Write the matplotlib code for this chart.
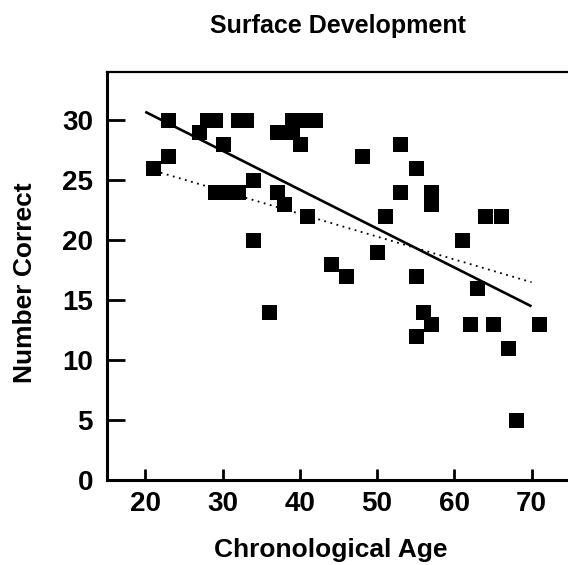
import matplotlib
matplotlib.use("Agg")
import matplotlib.pyplot as plt
import numpy as np

# Data
age = [21, 23, 23, 27, 28, 29, 30, 29, 30, 31, 32, 32, 33, 34, 34, 36, 37, 37, 38, 39,
       39, 40, 41, 42, 41, 44, 46, 48, 50, 51, 53, 53, 55, 55, 55, 56, 57, 57, 57, 61,
       62, 63, 64, 65, 66, 67, 68, 71]
score = [26, 30, 27, 29, 30, 30, 28, 24, 24, 24, 24, 30, 30, 25, 20, 14, 29, 24, 23, 29,
         30, 28, 30, 30, 22, 18, 17, 27, 19, 22, 28, 24, 26, 17, 12, 14, 24, 23, 13, 20,
         13, 16, 22, 13, 22, 11, 5, 13]

# Fitted lines (intercept, slope) and age range they span
solid_fit = [37.14, -0.324]
solid_range = [20, 70]
dotted_fit = [29.77, -0.19]
dotted_range = [22, 70]

xticks = [20, 30, 40, 50, 60, 70]
yticks = [0, 5, 10, 15, 20, 25, 30]

plt.rcParams['font.family'] = ['Liberation Sans', 'DejaVu Sans']

fig = plt.figure(figsize=(5.68, 5.65), dpi=100)
ax = fig.add_axes([107/568, 1-480/565, 1-107/568, (480-71.7)/565])

ax.plot(age, score, linestyle='none', marker='s', markersize=10.8,
        color='black', markeredgewidth=0)

xs = np.array(solid_range, dtype=float)
ax.plot(xs, solid_fit[0] + solid_fit[1]*xs, color='black', linewidth=1.9,
        solid_capstyle='butt')
xd = np.array(dotted_range, dtype=float)
ax.plot(xd, dotted_fit[0] + dotted_fit[1]*xd, color='black', linewidth=1.3,
        linestyle=(0, (1, 2.5)))

ax.set_xlim(15.05, 74.72)
ax.set_ylim(0, 34)
ax.set_xticks(xticks)
ax.set_yticks(yticks)
ax.tick_params(axis='x', direction='in', length=8, width=2, labelsize=20, pad=8)
ax.tick_params(axis='y', direction='in', length=13, width=2, labelsize=20, pad=10)
for lab in ax.get_xticklabels() + ax.get_yticklabels():
    lab.set_fontweight('bold')

ax.spines['right'].set_visible(False)
ax.spines['left'].set_linewidth(2.2)
ax.spines['bottom'].set_linewidth(2.2)
ax.spines['top'].set_linewidth(1.6)

fig.text(338/568, 1-33/565, 'Surface Development', ha='center', va='baseline',
         fontsize=18, fontweight='bold')
fig.text(331/568, 1-557/565, 'Chronological Age', ha='center', va='baseline',
         fontsize=19, fontweight='bold')
fig.text(25/568, 1-283/565, 'Number Correct', ha='center', va='center',
         rotation=90, fontsize=19, fontweight='bold')

fig.savefig('out.png', dpi=100)
